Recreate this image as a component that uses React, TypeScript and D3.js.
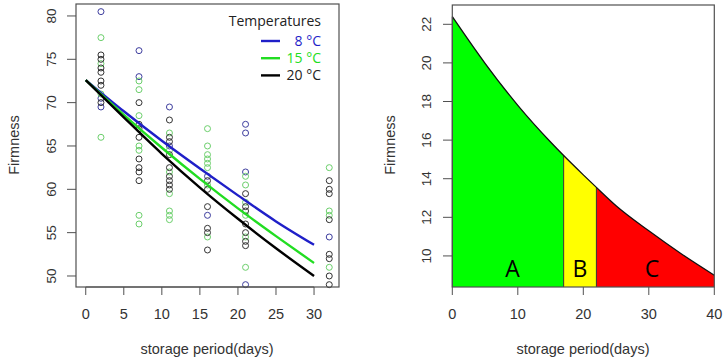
import React from "react";
import * as d3 from "d3";

// ---- Left panel: firmness measurements by storage temperature ----
const temperatures = ["8 °C", "15 °C", "20 °C"];

// [storage day, firmness]
const firm8: [number, number][] = [
  [2, 80.5], [2, 70.5], [2, 69.5],
  [7, 76.0], [7, 73.0],
  [11, 69.5], [11, 65.0],
  [16, 61.5], [16, 57.0],
  [21, 67.5], [21, 66.5], [21, 62.0], [21, 49.0],
  [32, 54.5],
];
const firm15: [number, number][] = [
  [2, 77.5], [2, 74.5], [2, 71.0], [2, 66.0],
  [7, 72.5], [7, 71.5], [7, 68.5], [7, 65.0], [7, 64.5], [7, 57.0], [7, 56.0],
  [11, 66.5], [11, 64.5], [11, 62.0], [11, 59.5], [11, 57.5], [11, 57.0], [11, 56.5],
  [16, 67.0], [16, 65.0], [16, 64.0], [16, 63.5], [16, 63.0], [16, 62.5], [16, 60.5], [16, 54.5],
  [21, 61.5], [21, 60.5], [21, 58.5], [21, 57.0], [21, 54.5], [21, 51.0],
  [32, 62.5], [32, 57.5], [32, 57.0], [32, 51.0],
];
const firm20: [number, number][] = [
  [2, 75.5], [2, 75.0], [2, 74.0], [2, 73.5], [2, 72.5], [2, 72.0], [2, 70.0],
  [7, 70.0], [7, 67.5], [7, 67.0], [7, 66.0], [7, 63.5], [7, 62.5], [7, 62.0], [7, 61.0],
  [11, 68.0], [11, 66.0], [11, 65.5], [11, 64.0], [11, 62.5], [11, 61.5], [11, 61.0], [11, 60.5], [11, 60.0],
  [16, 61.0], [16, 60.0], [16, 58.0], [16, 55.5], [16, 55.0], [16, 53.0],
  [21, 59.5], [21, 58.0], [21, 57.5], [21, 56.0], [21, 55.0], [21, 54.0], [21, 53.5],
  [32, 61.0], [32, 60.0], [32, 59.5], [32, 56.5], [32, 52.5], [32, 52.0], [32, 50.0], [32, 49.0],
];

// fitted firmness curves
const fitDays = [0, 5, 10, 15, 20, 25, 30];
const fit8 = [72.6, 69.0, 65.6, 62.4, 59.3, 56.3, 53.6];
const fit15 = [72.6, 68.6, 64.8, 61.2, 57.8, 54.6, 51.5];
const fit20 = [72.6, 68.3, 64.1, 60.2, 56.6, 53.2, 50.0];

const leftXTicks = [0, 5, 10, 15, 20, 25, 30];
const leftYTicks = [50, 55, 60, 65, 70, 75, 80];

// ---- Right panel: shelf-life zones ----
const curveDays = [0, 5, 10, 15, 17, 20, 22, 25, 30, 35, 40];
const curveFirm = [22.4, 19.98, 17.8, 15.9, 15.2, 14.2, 13.55, 12.6, 11.3, 10.1, 9.0];
const zoneNames = ["A", "B", "C"];
const zoneBounds = [0, 17, 22, 40];
const zoneLabelDays = [9.2, 19.5, 30.5];
const rightXTicks = [0, 10, 20, 30, 40];
const rightYTicks = [10, 12, 14, 16, 18, 20, 22];

const W = 723;
const H = 361;
const FONT = "'Liberation Sans', Arial, sans-serif";
const LEGEND_FONT = "'Open Sans', 'Noto Sans', sans-serif";
const BOX = "#505050";

const pointColors = ["#3d3d9e", "#6ccf6c", "#333333"];
const lineColors = ["#1f1fc8", "#22dd22", "#000000"];
const zoneColors = ["#00ff00", "#ffff00", "#ff0000"];

export default function App() {
  // left panel scales
  const lx = d3.scaleLinear().domain([-1.28, 33.28]).range([76, 339]);
  const ly = d3.scaleLinear().domain([48.73, 81.38]).range([287, 4]);
  const fitLine = d3
    .line<[number, number]>()
    .x((d) => lx(d[0]))
    .y((d) => ly(d[1]))
    .curve(d3.curveMonotoneX);
  const groups = [firm8, firm15, firm20];
  const fits = [fit8, fit15, fit20];

  // right panel scales
  const rx = d3.scaleLinear().domain([0, 40]).range([452.3, 714.3]);
  const ry = d3.scaleLinear().domain([8.39, 23.0]).range([287, 5]);
  const curvePts: [number, number][] = curveDays.map((d, i) => [d, curveFirm[i]]);
  const zoneArea = d3
    .area<[number, number]>()
    .x((d) => rx(d[0]))
    .y0(ry(8.39))
    .y1((d) => ry(d[1]))
    .curve(d3.curveMonotoneX);
  const topLine = d3
    .line<[number, number]>()
    .x((d) => rx(d[0]))
    .y((d) => ry(d[1]))
    .curve(d3.curveMonotoneX);
  const firmAt = (day: number) => curveFirm[curveDays.indexOf(day)];

  return (
    <svg
      width={W}
      height={H}
      style={{ position: "absolute", left: 0, top: 0, background: "#fff" }}
      fontFamily={FONT}
    >
      {/* ---------- left panel ---------- */}
      <g>
        {groups.map((g, gi) =>
          g.map((p, i) => (
            <circle
              key={`p${gi}-${i}`}
              cx={lx(p[0])}
              cy={ly(p[1])}
              r={3}
              fill="none"
              stroke={pointColors[gi]}
              strokeWidth={1}
            />
          ))
        )}
        {fits.map((f, fi) => (
          <path
            key={`f${fi}`}
            d={fitLine(fitDays.map((d, i) => [d, f[i]] as [number, number])) || ""}
            fill="none"
            stroke={lineColors[fi]}
            strokeWidth={2.4}
          />
        ))}
        <rect x={76} y={4} width={263} height={283} fill="none" stroke={BOX} strokeWidth={1.2} />
        {/* x axis */}
        <line x1={lx(0)} x2={lx(30)} y1={287} y2={287} stroke={BOX} />
        {leftXTicks.map((t) => (
          <g key={`lxt${t}`}>
            <line x1={lx(t)} x2={lx(t)} y1={287} y2={295} stroke={BOX} />
            <text x={lx(t)} y={319} fontSize={14.5} textAnchor="middle" fill="#333">
              {t}
            </text>
          </g>
        ))}
        {/* y axis */}
        {leftYTicks.map((t) => (
          <g key={`lyt${t}`}>
            <line x1={67} x2={76} y1={ly(t)} y2={ly(t)} stroke={BOX} />
            <text
              transform={`translate(55.5,${ly(t)}) rotate(-90)`}
              fontSize={13.5}
              textAnchor="middle"
              fill="#333"
            >
              {t}
            </text>
          </g>
        ))}
        <text transform="translate(18.5,145) rotate(-90)" fontSize={14.5} textAnchor="middle" fill="#333">
          Firmness
        </text>
        <text x={207} y={354} fontSize={14.5} textAnchor="middle" fill="#333">
          storage period(days)
        </text>
        {/* legend */}
        <g fontFamily={LEGEND_FONT} fontSize={14} textAnchor="end">
          <text x={321} y={25.5} fill="#222">
            Temperatures
          </text>
          {temperatures.map((t, i) => (
            <g key={`lg${i}`}>
              <line x1={261} x2={280} y1={41 + i * 17.2} y2={41 + i * 17.2} stroke={lineColors[i]} strokeWidth={2.4} />
              <text x={321} y={46 + i * 17.2} fill={i === 2 ? "#222" : lineColors[i]}>
                {t}
              </text>
            </g>
          ))}
        </g>
      </g>

      {/* ---------- right panel ---------- */}
      <g>
        {zoneNames.map((z, zi) => {
          const lo = zoneBounds[zi];
          const hi = zoneBounds[zi + 1];
          const pts = curvePts.filter((p) => p[0] >= lo && p[0] <= hi);
          return (
            <path key={`zone${z}`} d={zoneArea(pts) || ""} fill={zoneColors[zi]} stroke="none" />
          );
        })}
        {zoneBounds.slice(1, 3).map((b) => (
          <line
            key={`div${b}`}
            x1={rx(b)}
            x2={rx(b)}
            y1={ry(8.39)}
            y2={ry(firmAt(b))}
            stroke="#333"
            strokeWidth={1}
          />
        ))}
        <line x1={rx(0)} x2={rx(0)} y1={ry(8.39)} y2={ry(curveFirm[0])} stroke="#333" strokeWidth={1} />
        <path d={topLine(curvePts) || ""} fill="none" stroke="#111" strokeWidth={1.3} />
        {zoneNames.map((z, zi) => (
          <text
            key={`zl${z}`}
            x={rx(zoneLabelDays[zi])}
            y={277}
            fontFamily={LEGEND_FONT}
            fontSize={23}
            textAnchor="middle"
            fill="#000"
          >
            {z}
          </text>
        ))}
        <rect x={452.3} y={5} width={262} height={282} fill="none" stroke={BOX} strokeWidth={1.2} />
        {rightXTicks.map((t) => (
          <g key={`rxt${t}`}>
            <line x1={rx(t)} x2={rx(t)} y1={287} y2={295} stroke={BOX} />
            <text x={rx(t)} y={319} fontSize={14.5} textAnchor="middle" fill="#333">
              {t}
            </text>
          </g>
        ))}
        {rightYTicks.map((t) => (
          <g key={`ryt${t}`}>
            <line x1={443} x2={452.3} y1={ry(t)} y2={ry(t)} stroke={BOX} />
            <text
              transform={`translate(431,${ry(t)}) rotate(-90)`}
              fontSize={13.5}
              textAnchor="middle"
              fill="#333"
            >
              {t}
            </text>
          </g>
        ))}
        <text transform="translate(395,145) rotate(-90)" fontSize={14.5} textAnchor="middle" fill="#333">
          Firmness
        </text>
        <text x={583} y={354} fontSize={14.5} textAnchor="middle" fill="#333">
          storage period(days)
        </text>
      </g>
    </svg>
  );
}
